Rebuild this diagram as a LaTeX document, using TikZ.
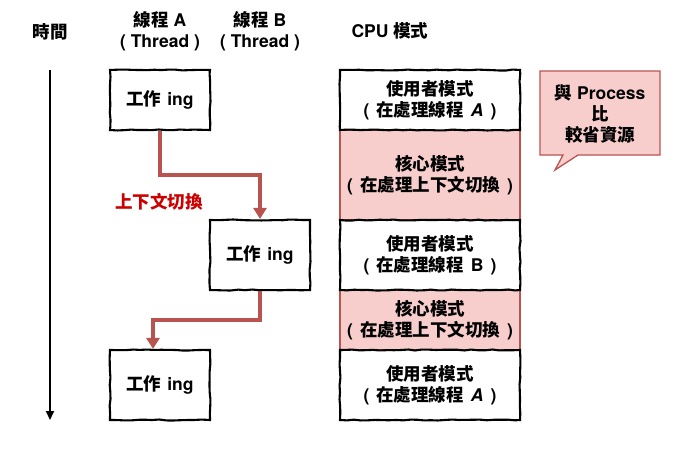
\documentclass[tikz,border=0pt]{standalone}
\usepackage{fontspec}
\setmainfont{TeX Gyre Heros}
\newfontfamily\cjk{Noto Sans CJK TC}
\usetikzlibrary{arrows.meta,decorations.pathmorphing}
\definecolor{redline}{HTML}{B85450}
\definecolor{redfill}{HTML}{F8CECC}
\definecolor{redtext}{HTML}{CC0000}
\newcommand\zh[1]{{\cjk\bfseries #1}}
\newcommand\gap{\hspace{7pt}}
\tikzset{
  bodyfont/.style={font=\bfseries\fontsize{17.5}{21}\selectfont},
  txt/.style={bodyfont, align=center, inner sep=0pt},
  sketchy/.style={decorate, decoration={random steps, segment length=7pt, amplitude=0.5pt}},
  wbox/.style={draw=black, line width=2.1pt, fill=white, minimum width=#1, inner sep=0pt, align=center, bodyfont, sketchy},
  userbox/.style={draw=black, line width=2.1pt, fill=white, minimum width=180pt, inner sep=0pt, align=center, bodyfont, sketchy},
  kernbox/.style={draw=redline, line width=1.6pt, fill=redfill, minimum width=180pt, inner sep=0pt, align=center, bodyfont},
  switcharrow/.style={draw=redline, line width=3.2pt, -{Triangle[length=11pt,width=13pt]}},
}
\begin{document}
\begin{tikzpicture}[x=1pt,y=-1pt]
\useasboundingbox (0,0) rectangle (681,461);
% headers
\node[txt] (time) at (50,32) {\zh{時間}};
\node[txt] (tha) at (160,31) {\zh{線程}\ A\\(\ Thread\ )};
\node[txt] (thb) at (260,31) {\zh{線程}\ B\\(\ Thread\ )};
\node[txt] (cpu) at (390,31) {CPU \zh{模式}};
% time axis
\coordinate (ttop) at (50,70);
\coordinate (tbot) at (50,420);
\draw[line width=2pt, -{Triangle[length=9pt,width=8pt]}] (ttop) -- (tbot);
% work boxes
\node[wbox=100pt, minimum height=60pt] (a1) at (160,100) {\zh{工作}\hspace{6pt}ing};
\node[wbox=100pt, minimum height=70pt] (b1) at (260,255) {\zh{工作}\hspace{6pt}ing};
\node[wbox=100pt, minimum height=70pt] (a2) at (160,385) {\zh{工作}\hspace{6pt}ing};
% switch arrows
\coordinate (s1) at (160,175);
\coordinate (s2) at (260,175);
\draw[switcharrow] (a1.south) -- (s1) -- (s2) -- (b1.north);
\coordinate (s3) at (260,320);
\coordinate (s4) at (153,320);
\draw[switcharrow] (b1.south) -- (s3) -- (s4) -- (s4 |- a2.north);
\node[txt, text=redtext] (ctx) at (159,202) {\zh{上下文切換}};
% CPU column
\node[kernbox, minimum height=90pt] (k1) at (430,175) {\zh{核心模式}\\(\gap\zh{在處理上下文切換}\gap)};
\node[kernbox, minimum height=60pt] (k2) at (430,320) {\zh{核心模式}\\(\gap\zh{在處理上下文切換}\gap)};
\node[userbox, minimum height=60pt] (u1) at (430,100) {\zh{使用者模式}\\(\gap\zh{在處理線程}\gap\textit{A}\gap)};
\node[userbox, minimum height=70pt] (u2) at (430,255) {\zh{使用者模式}\\(\gap\zh{在處理線程}\gap B\gap)};
\node[userbox, minimum height=70pt] (u3) at (430,385) {\zh{使用者模式}\\(\gap\zh{在處理線程}\gap\textit{A}\gap)};
% callout
\draw[draw=redline, line width=1.3pt, fill=redfill]
  (540,71) -- (660,71) -- (660,155) -- (578,155) -- (555,170) -- (563,155) -- (540,155) -- cycle;
\node[txt] (note) at (600,114) {\zh{與}\ Process\\\zh{比}\\\zh{較省資源}};
\end{tikzpicture}
\end{document}
